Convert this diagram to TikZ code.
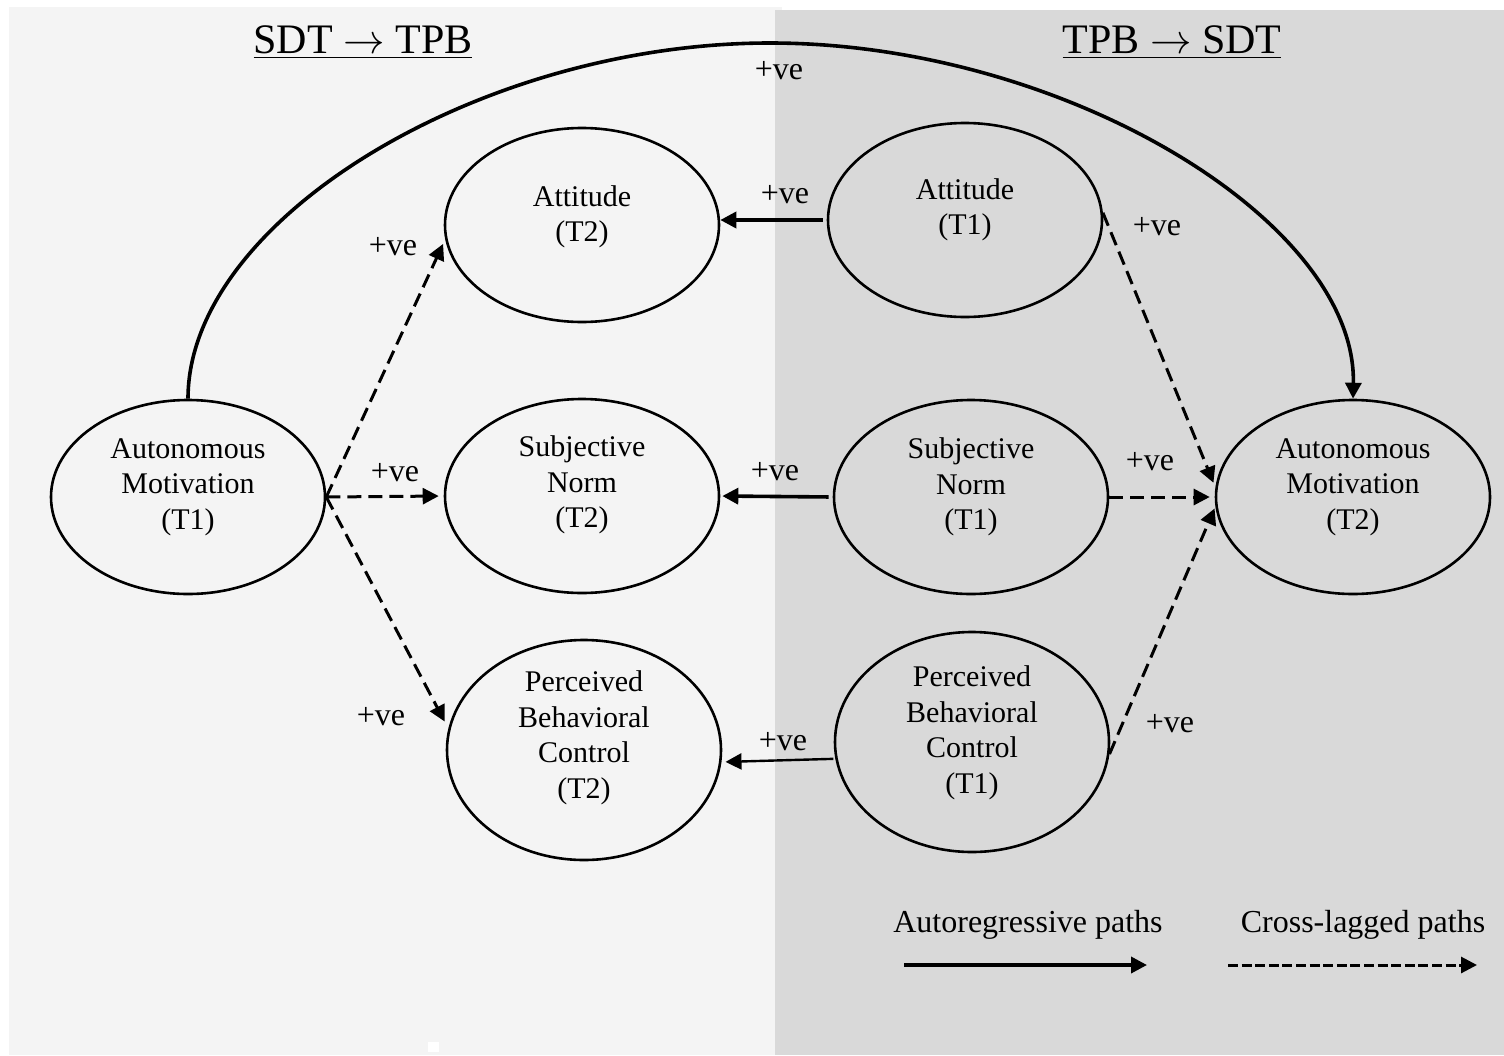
\documentclass[tikz,border=0pt]{standalone}
\usepackage{fontspec}
\setmainfont{Liberation Serif}
\usetikzlibrary{arrows.meta,shapes.geometric,calc}
\definecolor{leftbg}{HTML}{F4F4F4}
\definecolor{rightbg}{HTML}{D9D9D9}
\begin{document}
\begin{tikzpicture}[x=0.5pt,y=-0.5pt,
  ell/.style={draw=black, line width=1.3pt, ellipse, minimum width=137pt, minimum height=97pt, inner sep=0pt},
  ellbig/.style={ell, minimum height=110pt},
  txt/.style={align=center, font=\fontsize{15}{17.75}\selectfont, inner sep=0pt},
  plusve/.style={font=\fontsize{16}{18}\selectfont, inner sep=0pt},
  ttl/.style={font=\fontsize{21}{25}\selectfont, inner sep=0pt},
  leg/.style={font=\fontsize{16}{18}\selectfont, inner sep=0pt},
  autopath/.style={line width=1.8pt, -{Triangle[length=8pt,width=8pt]}},
  crosspath/.style={line width=1.5pt, dash pattern=on 7pt off 3.5pt, -{Triangle[length=8pt,width=8pt]}},
]
% backgrounds
\fill[white] (0,0) rectangle (1504,1055);
\fill[leftbg] (9,7) rectangle (782,1055);
\fill[rightbg] (775,10) rectangle (1504,1055);
\fill[white] (428,1042) rectangle (439,1052);
\useasboundingbox (0,0) rectangle (1504,1055);

% titles
\node[ttl] (ttlL) at (363,42) {\underline{SDT $\rightarrow$ TPB}};
\node[ttl] (ttlR) at (1172,42) {\underline{TPB $\rightarrow$ SDT}};

% ellipses
\node[ell] (am1) at (188,497) {};
\node[ell] (at2) at (582,225) {};
\node[ell] (sn2) at (582,496) {};
\node[ellbig] (pbc2) at (584,750) {};
\node[ell] (at1) at (965,220) {};
\node[ell] (sn1) at (971,497) {};
\node[ellbig] (pbc1) at (972,742) {};
\node[ell] (am2) at (1353,497) {};

% texts
\node[txt] (am1t) at (188,487) {Autonomous\\Motivation\\(T1)};
\node[txt] (at2t) at (582,217) {Attitude\\(T2)};
\node[txt] (sn2t) at (582,485) {Subjective\\Norm\\(T2)};
\node[txt] (pbc2t) at (584,738) {Perceived\\Behavioral\\Control\\(T2)};
\node[txt] (at1t) at (965,210) {Attitude\\(T1)};
\node[txt] (sn1t) at (971,487) {Subjective\\Norm\\(T1)};
\node[txt] (pbc1t) at (972,733) {Perceived\\Behavioral\\Control\\(T1)};
\node[txt] (am2t) at (1353,487) {Autonomous\\Motivation\\(T2)};

% big arc
\coordinate (arctop) at (770,43);
\draw[autopath] (am1.north) .. controls +(0,-179) and (480,43) .. (arctop)
  .. controls (1063,43) and (1357,221) .. (am2.north);

% autoregressive paths
\draw[autopath, shorten <=2pt] (at1.west) -- (at1.west -| at2.east);
\draw[autopath, shorten <=2pt, shorten >=1pt] (sn1.west) -- (sn2.east);
\draw[autopath, line width=1.2pt, shorten <=1pt, shorten >=2pt] (pbc1.187) -- (pbc2.355);

% cross-lagged paths left
\draw[crosspath, shorten >=2.5pt] (am1.east) -- (at2.186);
\draw[crosspath, shorten >=2.5pt] (am1.east) -- (sn2.west);
\draw[crosspath, shorten >=4pt] (am1.east) -- (pbc2.171);

% cross-lagged paths right
\draw[crosspath, shorten >=2.5pt] (at1.3) -- (am2.176);
\draw[crosspath, shorten >=2.5pt] (sn1.east) -- (am2.west);
\draw[crosspath, shorten >=1pt] (pbc1.355) -- (am2.184);

% +ve labels
\node[plusve] (p1) at (779,71) {+ve};
\node[plusve] (p2) at (393,247) {+ve};
\node[plusve] (p3) at (785,195) {+ve};
\node[plusve] (p4) at (1157,227) {+ve};
\node[plusve] (p5) at (395,473) {+ve};
\node[plusve] (p6) at (775,472) {+ve};
\node[plusve] (p7) at (1150,462) {+ve};
\node[plusve] (p8) at (381,717) {+ve};
\node[plusve] (p9) at (783,742) {+ve};
\node[plusve] (p10) at (1170,724) {+ve};

% legend
\node[leg] (lgA) at (1028,925) {Autoregressive paths};
\node[leg] (lgC) at (1363,925) {Cross-lagged paths};
\coordinate (la1) at (904,965);
\coordinate (la2) at (1147,965);
\coordinate (lc1) at (1228,965);
\coordinate (lc2) at (1477,965);
\draw[autopath] (la1) -- (la2);
\draw[line width=1.5pt, dash pattern=on 5pt off 1.8pt, -{Triangle[length=8pt,width=8pt]}] (lc1) -- (lc2);
\end{tikzpicture}
\end{document}
